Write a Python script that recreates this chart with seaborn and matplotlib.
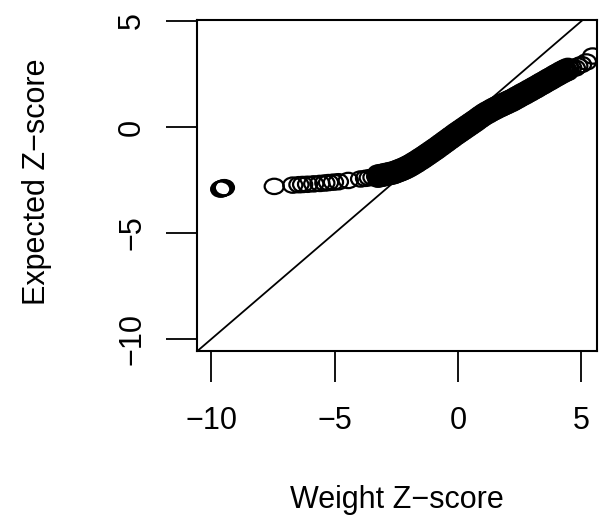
import numpy as np
import pandas as pd
import matplotlib
matplotlib.use("Agg")
import matplotlib.pyplot as plt
from matplotlib.path import Path
from matplotlib.markers import MarkerStyle
import seaborn as sns

# ---- values ----
# isolated / sparse points (both tails)
tail_x = [-9.62, -9.57, -9.52, -9.47, -7.45, -6.7, -6.45, -6.3, -6.1, -5.85,
          -5.6, -5.4, -5.25, -5.05, -4.85, -4.45, -3.95, -3.75, -3.6, -3.45,
          4.6, 4.75, 4.85, 5.0, 5.2, 5.45]
tail_y = [-2.93, -2.9, -2.88, -2.86, -2.8, -2.74, -2.72, -2.71, -2.7, -2.68,
          -2.66, -2.64, -2.62, -2.6, -2.58, -2.52, -2.45, -2.42, -2.39, -2.37,
          2.80, 2.78, 2.88, 2.95, 3.07, 3.35]

# dense band: centre line
band_x = [-3.3, -3.2, -3.1, -3.0, -2.9, -2.8, -2.7, -2.6, -2.5, -2.4,
          -2.3, -2.2, -2.1, -2.0, -1.9, -1.8, -1.7, -1.6, -1.5, -1.4,
          -1.3, -1.2, -1.1, -1.0, -0.9, -0.8, -0.7, -0.6, -0.5, -0.4,
          -0.3, -0.2, -0.1, 0.0, 0.1, 0.2, 0.3, 0.4, 0.5, 0.6,
          0.7, 0.8, 0.9, 1.0, 1.1, 1.2, 1.3, 1.4, 1.5, 1.6,
          1.7, 1.8, 1.9, 2.0, 2.1, 2.2, 2.3, 2.4, 2.5, 2.6,
          2.7, 2.8, 2.9, 3.0, 3.1, 3.2, 3.3, 3.4, 3.5, 3.6,
          3.7, 3.8, 3.9, 4.0, 4.1, 4.2, 4.3, 4.4, 4.5]
band_y = [-2.33, -2.30, -2.28, -2.25, -2.23, -2.20, -2.18, -2.15, -2.10, -2.06,
          -2.01, -1.97, -1.91, -1.85, -1.78, -1.72, -1.64, -1.57, -1.49, -1.42,
          -1.34, -1.26, -1.18, -1.10, -1.02, -0.93, -0.85, -0.76, -0.68, -0.59,
          -0.51, -0.42, -0.34, -0.26, -0.18, -0.10, -0.02, 0.06, 0.14, 0.22,
          0.30, 0.38, 0.47, 0.55, 0.62, 0.69, 0.75, 0.82, 0.88, 0.94,
          0.99, 1.05, 1.10, 1.16, 1.21, 1.27, 1.33, 1.40, 1.46, 1.53,
          1.59, 1.65, 1.72, 1.78, 1.85, 1.91, 1.98, 2.05, 2.11, 2.18,
          2.25, 2.31, 2.38, 2.45, 2.51, 2.58, 2.64, 2.69, 2.75]

# dense band: lower and upper edge rows
edge_x = [-3.25, -3.15, -3.05, -2.95, -2.85, -2.75, -2.65, -2.55, -2.45, -2.35,
          -2.25, -2.15, -2.05, -1.95, -1.85, -1.75, -1.65, -1.55, -1.45, -1.35,
          -1.25, -1.15, -1.05, -0.95, -0.85, -0.75, -0.65, -0.55, -0.45, -0.35,
          -0.25, -0.15, -0.05, 0.05, 0.15, 0.25, 0.35, 0.45, 0.55, 0.65,
          0.75, 0.85, 0.95, 1.05, 1.15, 1.25, 1.35, 1.45, 1.55, 1.65,
          1.75, 1.85, 1.95, 2.05, 2.15, 2.25, 2.35, 2.45, 2.55, 2.65,
          2.75, 2.85, 2.95, 3.05, 3.15, 3.25, 3.35, 3.45, 3.55, 3.65,
          3.75, 3.85, 3.95, 4.05, 4.15, 4.25, 4.35, 4.45]
edge_low = [-2.46, -2.43, -2.41, -2.38, -2.36, -2.33, -2.31, -2.27, -2.22, -2.18,
            -2.13, -2.08, -2.02, -1.96, -1.89, -1.82, -1.75, -1.67, -1.60, -1.52,
            -1.44, -1.36, -1.28, -1.20, -1.12, -1.03, -0.95, -0.86, -0.78, -0.69,
            -0.61, -0.52, -0.44, -0.36, -0.28, -0.20, -0.12, -0.04, 0.04, 0.12,
            0.20, 0.29, 0.37, 0.45, 0.52, 0.58, 0.65, 0.71, 0.77, 0.83,
            0.88, 0.94, 0.99, 1.05, 1.10, 1.16, 1.23, 1.29, 1.36, 1.42,
            1.48, 1.55, 1.61, 1.68, 1.74, 1.81, 1.88, 1.94, 2.01, 2.08,
            2.14, 2.21, 2.28, 2.34, 2.41, 2.47, 2.53, 2.58]
edge_high = [-2.17, -2.15, -2.13, -2.10, -2.08, -2.05, -2.03, -1.99, -1.94, -1.90,
             -1.85, -1.80, -1.74, -1.68, -1.61, -1.54, -1.47, -1.39, -1.32, -1.24,
             -1.16, -1.08, -1.00, -0.92, -0.84, -0.75, -0.67, -0.58, -0.50, -0.41,
             -0.33, -0.24, -0.16, -0.08, 0.00, 0.08, 0.16, 0.24, 0.32, 0.40,
             0.48, 0.57, 0.65, 0.73, 0.80, 0.86, 0.93, 0.99, 1.05, 1.11,
             1.16, 1.22, 1.27, 1.33, 1.38, 1.44, 1.51, 1.57, 1.64, 1.70,
             1.76, 1.83, 1.89, 1.96, 2.02, 2.09, 2.16, 2.22, 2.29, 2.36,
             2.42, 2.49, 2.56, 2.62, 2.69, 2.75, 2.81, 2.86]

x_ticks = [-10, -5, 0, 5]
y_ticks = [-10, -5, 0, 5]
x_label = "Weight Z\u2212score"
y_label = "Expected Z\u2212score"

df = pd.DataFrame({
    "weight": tail_x + band_x + edge_x + edge_x,
    "expected": tail_y + band_y + edge_low + edge_high,
})

sns.set_style("white")
plt.rcParams["font.family"] = ["Liberation Sans", "DejaVu Sans"]
plt.rcParams["text.color"] = "black"
plt.rcParams["axes.labelcolor"] = "black"

fig = plt.figure(figsize=(6.01, 5.19), dpi=100)
ax = fig.add_axes([0.3278, 0.3243, 0.6656, 0.6372])

# slightly wide ellipse marker (reference is horizontally stretched)
circ = Path.unit_circle()
ell = Path(circ.vertices * np.array([1.0, 0.8]), circ.codes)
marker = MarkerStyle(ell)

sns.scatterplot(data=df, x="weight", y="expected", ax=ax, marker=marker,
                s=190, facecolor="none", edgecolor="black", linewidth=1.6,
                legend=False)
ax.axline((0, 0), slope=1, color="black", linewidth=1.3)

ax.set_xlim(-10.58, 5.63)
ax.set_ylim(-10.55, 5.05)
ax.set_xticks(x_ticks)
ax.set_yticks(y_ticks)
ax.set_xticklabels([f"{t}".replace("-", "\u2212") for t in x_ticks], fontsize=22)
ax.set_yticklabels([f"{t}".replace("-", "\u2212") for t in y_ticks], fontsize=22,
                   rotation=90, va="center")
ax.tick_params(axis="x", direction="out", length=22, width=1.3, pad=18,
               colors="black", bottom=True)
ax.tick_params(axis="y", direction="out", length=22, width=1.3, pad=14,
               colors="black", left=True)
for s in ax.spines.values():
    s.set_color("black")
    s.set_linewidth(1.5)
ax.set_xlabel(x_label, fontsize=22, va="center")
ax.set_ylabel(y_label, fontsize=22, va="center")
ax.xaxis.set_label_coords(0.5, -0.45)
ax.yaxis.set_label_coords(-0.40, 0.51)

fig.savefig("out.png", dpi=100)
